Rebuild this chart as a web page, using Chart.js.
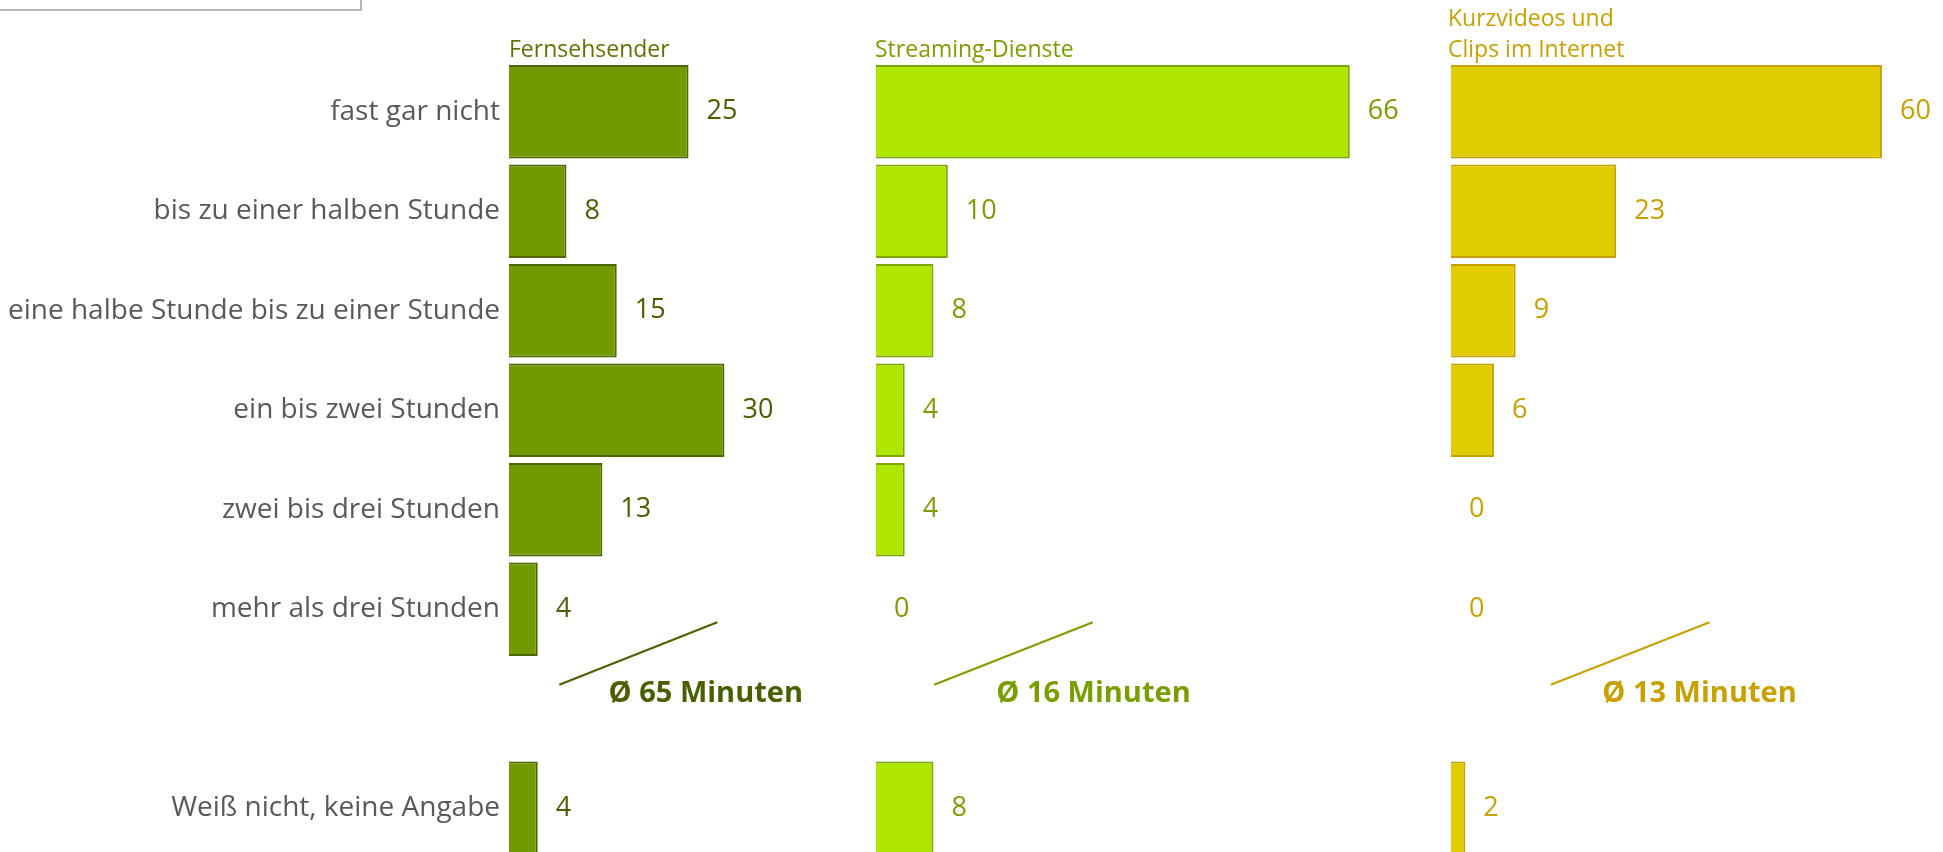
<!DOCTYPE html>
<html lang="de">
<head>
<meta charset="utf-8">
<title>Nutzungsdauer Fernsehen, Streaming, Kurzvideos</title>
<script src="https://cdn.jsdelivr.net/npm/chart.js@4.4.1/dist/chart.umd.min.js"></script>
<style>
  html, body { margin: 0; padding: 0; background: #fff; overflow: hidden; }
  #wrap { position: relative; width: 1943px; height: 860px; }
  #wrap canvas { position: absolute; left: 0; top: 0; }
</style>
</head>
<body>
<div id="wrap">
  <canvas id="c1" width="1943" height="860"></canvas>
  <canvas id="c2" width="1943" height="860"></canvas>
  <canvas id="c3" width="1943" height="860"></canvas>
</div>
<script>
// Kategorien (der leere Eintrag ist die Lücke für die Durchschnittswerte)
const kategorien = [
  'fast gar nicht',
  'bis zu einer halben Stunde',
  'eine halbe Stunde bis zu einer Stunde',
  'ein bis zwei Stunden',
  'zwei bis drei Stunden',
  'mehr als drei Stunden',
  '',
  'Weiß nicht, keine Angabe'
];

// Werte in Prozent
const fernsehsender = [25, 8, 15, 30, 13, 4, null, 4];
const streaming     = [66, 10, 8, 4, 4, 0, null, 8];
const kurzvideos    = [60, 23, 9, 6, 0, 0, null, 2];

const titel = [['Fernsehsender'], ['Streaming-Dienste'], ['Kurzvideos und', 'Clips im Internet']];
const durchschnitt = ['Ø 65 Minuten', 'Ø 16 Minuten', 'Ø 13 Minuten'];

const FONT = '"Open Sans", sans-serif';

// Panels: Lage, Farben, Anmerkungen
const panels = [
  { id: 'c1', data: fernsehsender, titel: titel[0], avg: durchschnitt[0],
    padLeft: 0, padRight: 1067, max: 51.1, yAxis: true, headDx: 0,
    fill: '#719a00', border: '#4d6600', text: '#4a6000', head: '#5c7400',
    line: [7, 29], avgX: 27.4 },
  { id: 'c2', data: streaming, titel: titel[1], avg: durchschnitt[1],
    padLeft: 876, padRight: 492, max: 80.1, yAxis: false, headDx: -1,
    fill: '#aee600', border: '#7fa600', text: '#7a9e00', head: '#7a9e00',
    line: [8.1, 30.2], avgX: 30.3 },
  { id: 'c3', data: kurzvideos, titel: titel[2], avg: durchschnitt[2],
    padLeft: 1451, padRight: 0, max: 68.5, yAxis: false, headDx: -3,
    fill: '#e0cc00', border: '#c4a000', text: '#c8a000', head: '#c8a000',
    line: [13.9, 36], avgX: 34.6 }
];

function makeChart(p) {
  const beschriftung = {
    id: 'beschriftung',
    afterDatasetsDraw(chart) {
      const ctx = chart.ctx;
      const x = chart.scales.x, y = chart.scales.y;
      const area = chart.chartArea;
      ctx.save();

      // Kasten oben links
      if (p.yAxis) {
        ctx.strokeStyle = '#b5b5b5';
        ctx.lineWidth = 2;
        ctx.strokeRect(-2, -2, 363, 12);
      }

      // Überschrift
      ctx.fillStyle = p.head;
      ctx.font = '23px ' + FONT;
      ctx.textAlign = 'left';
      ctx.textBaseline = 'alphabetic';
      const n = p.titel.length;
      p.titel.forEach((t, i) => {
        ctx.fillText(t, area.left + p.headDx, area.top - 5 - (n - 1 - i) * 31);
      });

      // Werte
      ctx.fillStyle = p.text;
      ctx.font = '27px ' + FONT;
      ctx.textBaseline = 'middle';
      p.data.forEach((v, i) => {
        if (v === null) return;
        ctx.fillText(String(v), x.getPixelForValue(v) + 18, y.getPixelForValue(i));
      });

      // Durchschnitt mit Linie
      ctx.strokeStyle = p.text;
      ctx.lineWidth = 2;
      ctx.beginPath();
      ctx.moveTo(x.getPixelForValue(p.line[0]), y.getPixelForValue(6) - 24);
      ctx.lineTo(x.getPixelForValue(p.line[1]), y.getPixelForValue(5) + 13);
      ctx.stroke();

      ctx.font = 'bold 29px ' + FONT;
      ctx.textAlign = 'center';
      ctx.fillText(p.avg, x.getPixelForValue(p.avgX), y.getPixelForValue(6) - 15);
      ctx.restore();
    }
  };

  return new Chart(document.getElementById(p.id), {
    type: 'bar',
    data: {
      labels: kategorien,
      datasets: [{
        data: p.data,
        backgroundColor: p.fill,
        borderColor: p.border,
        borderWidth: 2,
        categoryPercentage: 1,
        barPercentage: 0.94
      }]
    },
    options: {
      indexAxis: 'y',
      responsive: false,
      animation: false,
      devicePixelRatio: 1,
      layout: { padding: { left: p.padLeft, right: p.padRight, top: 62, bottom: 2 } },
      plugins: { legend: { display: false }, tooltip: { enabled: false } },
      scales: {
        x: { display: false, min: 0, max: p.max },
        y: {
          display: p.yAxis,
          grid: { display: false, drawTicks: false },
          border: { display: false },
          ticks: { color: '#595959', font: { family: FONT, size: 28 }, padding: 9, autoSkip: false },
          afterFit: (s) => {
            s.width = p.yAxis ? 509 : 0;
            s.paddingTop = 0;
            s.paddingBottom = 0;
          }
        }
      }
    },
    plugins: [beschriftung]
  });
}

panels.forEach(makeChart);
</script>
</body>
</html>
